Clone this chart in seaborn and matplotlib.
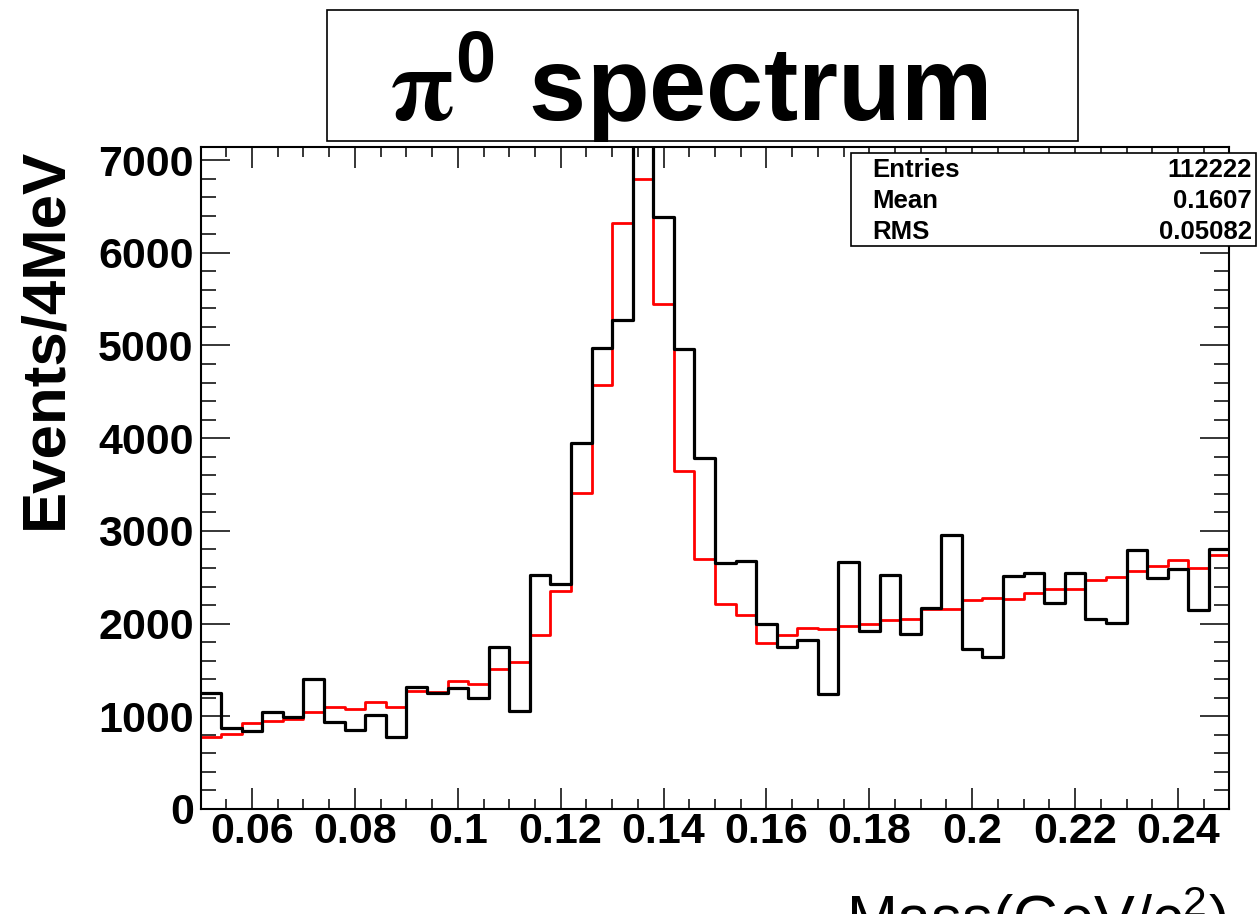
# pi0 invariant mass spectrum, data vs fit, drawn in a ROOT-like style
import numpy as np
import pandas as pd
import matplotlib
matplotlib.use("Agg")
import matplotlib.pyplot as plt
from matplotlib.patches import Rectangle
from matplotlib.ticker import MultipleLocator
import seaborn as sns

# -----------------------------------------------------------------------------
# binning: 4 MeV bins between 0.05 and 0.25 GeV
mass_lo = 0.05
mass_hi = 0.25
bin_width = 0.004

# measured counts per bin (black histogram)
data_counts = [1248, 877, 841, 1050, 996, 1399, 942, 852, 1014, 780,
               1319, 1248, 1302, 1201, 1751, 1060, 2520, 2428, 3950, 4970,
               5270, 7700, 6390, 4960, 3783, 2655, 2679, 1996, 1751, 1823,
               1241, 2668, 1920, 2524, 1888, 2165, 2956, 1726, 1643, 2513,
               2542, 2226, 2542, 2050, 2003, 2794, 2488, 2589, 2147, 2805]

# fitted shape per bin (red histogram)
fit_counts = [780, 806, 924, 953, 971, 1050, 1104, 1079, 1158, 1097,
              1273, 1265, 1384, 1345, 1507, 1582, 1872, 2354, 3405, 4574,
              6325, 6793, 5448, 3650, 2700, 2210, 2090, 1796, 1877, 1949,
              1942, 1978, 1992, 2039, 2046, 2157, 2154, 2255, 2279, 2265,
              2327, 2373, 2373, 2470, 2499, 2571, 2621, 2686, 2603, 2740]

x_ticks = [0.06, 0.08, 0.10, 0.12, 0.14, 0.16, 0.18, 0.20, 0.22, 0.24]
x_tick_labels = ["0.06", "0.08", "0.1", "0.12", "0.14", "0.16", "0.18", "0.2", "0.22", "0.24"]
y_ticks = [0, 1000, 2000, 3000, 4000, 5000, 6000, 7000]
y_max = 7141

stat_names = ["Entries", "Mean", "RMS"]
stat_values = ["112222", "0.1607", "0.05082"]

# -----------------------------------------------------------------------------
sns.set_style("ticks")
plt.rcParams["font.family"] = ["Liberation Sans", "DejaVu Sans"]
plt.rcParams["font.weight"] = "bold"
plt.rcParams["mathtext.fontset"] = "stix"
for key in ["text.color", "axes.labelcolor", "xtick.color", "ytick.color",
            "xtick.labelcolor", "ytick.labelcolor", "axes.edgecolor"]:
    plt.rcParams[key] = "black"

edges = np.round(np.arange(mass_lo, mass_hi + bin_width / 2, bin_width), 4)
centers = (edges[:-1] + edges[1:]) / 2
df_data = pd.DataFrame({"mass": centers, "count": data_counts})
df_fit = pd.DataFrame({"mass": centers, "count": fit_counts})

W, H = 1260, 914
fig = plt.figure(figsize=(W / 100, H / 100), dpi=100)
ax = fig.add_axes([200.6 / W, 1 - 809 / H, 1028.8 / W, 662 / H])

sns.histplot(data=df_fit, x="mass", weights="count", bins=list(edges), element="step",
             fill=False, color="#ff0000", linewidth=2.0, ax=ax, zorder=2)
sns.histplot(data=df_data, x="mass", weights="count", bins=list(edges), element="step",
             fill=False, color="black", linewidth=2.3, ax=ax, zorder=3)

ax.set_xlim(mass_lo, mass_hi)
ax.set_ylim(0, y_max)
ax.set_xlabel("")
ax.set_ylabel("")

ax.set_xticks(x_ticks)
ax.set_xticklabels(x_tick_labels)
ax.set_yticks(y_ticks)
ax.xaxis.set_minor_locator(MultipleLocator(0.005))
ax.yaxis.set_minor_locator(MultipleLocator(200))
ax.tick_params(which="both", direction="in", top=True, right=True,
               width=1.1, color="black", labelcolor="black", labelsize=31)
ax.tick_params(axis="x", which="major", length=15, pad=2)
ax.tick_params(axis="x", which="minor", length=7.5)
ax.tick_params(axis="y", which="major", length=21, pad=5)
ax.tick_params(axis="y", which="minor", length=10.5)
for s in ax.spines.values():
    s.set_linewidth(1.5)
    s.set_color("black")

# axis titles
fig.text(61 / W, 1 - 148 / H, "Events/4MeV", rotation=90, rotation_mode="anchor",
         ha="right", va="baseline", fontsize=44.5, fontweight="bold")
fig.text(1227 / W, 1 - 939 / H, r"Mass(GeV/c$\mathregular{^{2}}$)",
         ha="right", va="baseline", fontsize=44, fontweight="normal")

# title box
fig.add_artist(Rectangle((327 / W, 1 - 141 / H), 751 / W, 131 / H,
                         transform=fig.transFigure, facecolor="white",
                         edgecolor="black", linewidth=1.2))
fig.text(688 / W, 1 - 121 / H, r"$\mathrm{\pi}^{\mathregular{0}}$ spectrum",
         ha="center", va="baseline", fontsize=74, fontweight="bold")

# statistics box
fig.add_artist(Rectangle((851 / W, 1 - 246 / H), 405 / W, 93 / H,
                         transform=fig.transFigure, facecolor="white",
                         edgecolor="black", linewidth=1.2, zorder=5))
for i, (name, val) in enumerate(zip(stat_names, stat_values)):
    yb = 1 - (177 + i * 31) / H
    fig.text(872 / W, yb, name, ha="left", va="baseline", fontsize=18.5,
             fontweight="bold", zorder=6)
    fig.text(1252 / W, yb, val, ha="right", va="baseline", fontsize=18.5,
             fontweight="bold", zorder=6)

fig.savefig("out.png", dpi=100)
